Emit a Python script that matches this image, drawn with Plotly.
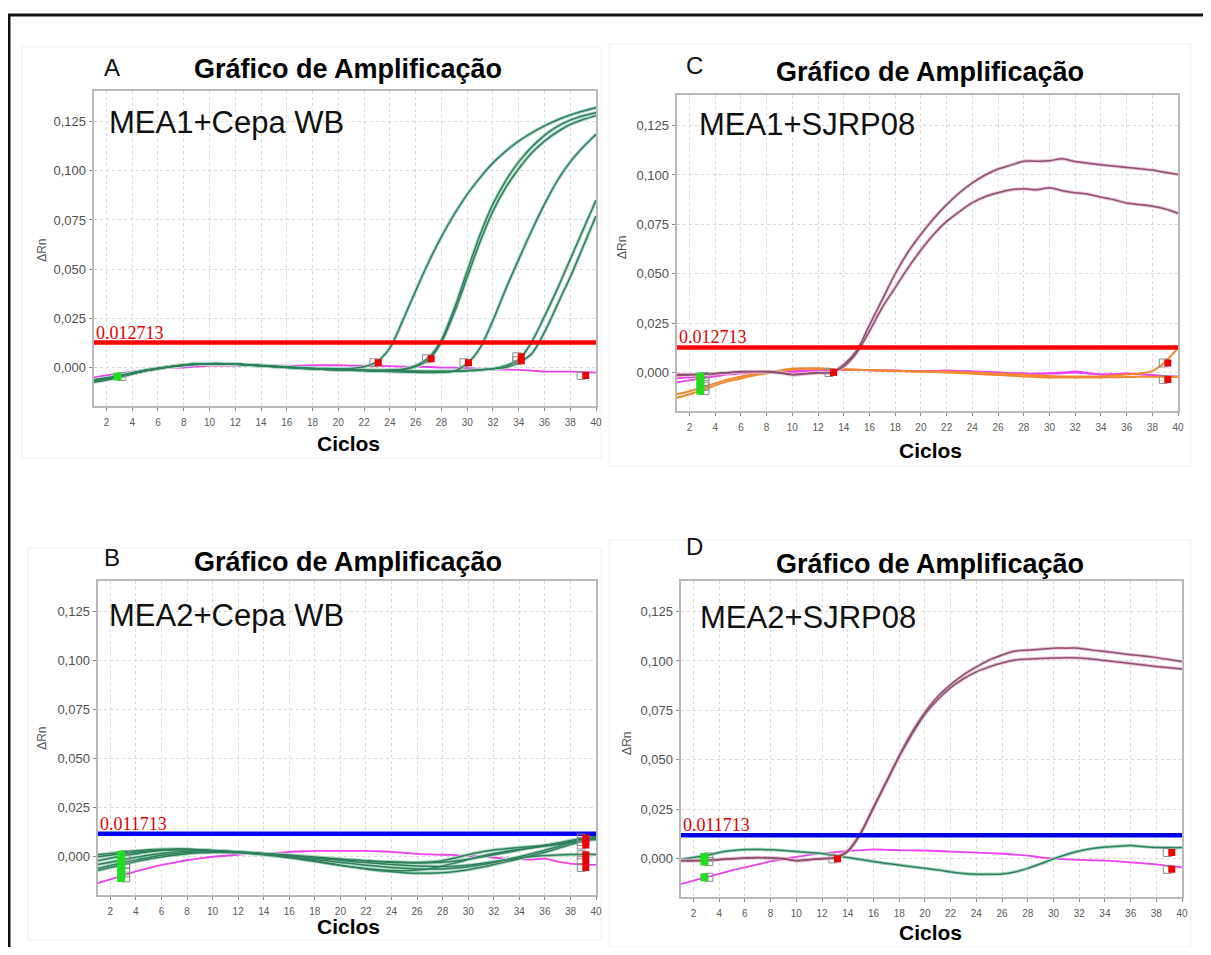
import plotly.graph_objects as go

# The page body keeps the browser's default 8px margin, so the figure is
# drawn 8px in from the top-left corner; all pixel positions below are given
# in the reference picture's coordinates and converted with OFF.
OFF = 8
W, H = 1211 - 2 * OFF, 955 - 2 * OFF

cycles = list(range(1, 41))
x_ticks = list(range(2, 41, 2))
y_ticks = [0.0, 0.025, 0.05, 0.075, 0.1, 0.125]
y_tick_text = ["0,000", "0,025", "0,050", "0,075", "0,100", "0,125"]

title_text = "Gráfico de Amplificação"
panel_letters = ["A", "C", "B", "D"]
panel_labels = ["MEA1+Cepa WB", "MEA1+SJRP08", "MEA2+Cepa WB", "MEA2+SJRP08"]
thresholds = [0.012713, 0.012713, 0.011713, 0.011713]
threshold_text = ["0.012713", "0.012713", "0.011713", "0.011713"]

# ---------------- Panel A : MEA1 + Cepa WB ----------------
A_green = [
    [-0.0070, -0.0060, -0.0045, -0.0030, -0.0015, -0.0005, 0.0005, 0.0012, 0.0018, 0.0020,
     0.0020, 0.0018, 0.0015, 0.0012, 0.0008, 0.0004, 0.0000, -0.0003, -0.0005, -0.0006,
     -0.0004, 0.0004, 0.0030, 0.0100, 0.0240, 0.0390, 0.0535, 0.0665, 0.0780, 0.0880,
     0.0965, 0.1040, 0.1100, 0.1150, 0.1192, 0.1228, 0.1258, 0.1283, 0.1303, 0.1320],
    [-0.0065, -0.0055, -0.0042, -0.0028, -0.0014, -0.0004, 0.0006, 0.0013, 0.0018, 0.0020,
     0.0019, 0.0017, 0.0014, 0.0010, 0.0006, 0.0002, -0.0002, -0.0005, -0.0008, -0.0010,
     -0.0012, -0.0013, -0.0013, -0.0012, -0.0008, 0.0010, 0.0050, 0.0140, 0.0300, 0.0490,
     0.0675, 0.0830, 0.0950, 0.1045, 0.1120, 0.1180, 0.1225, 0.1257, 0.1279, 0.1295],
    [-0.0075, -0.0063, -0.0048, -0.0032, -0.0017, -0.0006, 0.0004, 0.0011, 0.0016, 0.0019,
     0.0019, 0.0017, 0.0013, 0.0009, 0.0005, 0.0001, -0.0003, -0.0006, -0.0009, -0.0011,
     -0.0013, -0.0014, -0.0015, -0.0014, -0.0011, 0.0005, 0.0040, 0.0130, 0.0280, 0.0460,
     0.0640, 0.0795, 0.0915, 0.1010, 0.1090, 0.1150, 0.1198, 0.1235, 0.1260, 0.1280],
    [-0.0068, -0.0058, -0.0044, -0.0030, -0.0016, -0.0005, 0.0005, 0.0012, 0.0017, 0.0020,
     0.0020, 0.0018, 0.0014, 0.0010, 0.0006, 0.0002, -0.0002, -0.0006, -0.0009, -0.0012,
     -0.0014, -0.0016, -0.0018, -0.0020, -0.0022, -0.0024, -0.0025, -0.0024, -0.0018, 0.0020,
     0.0100, 0.0240, 0.0400, 0.0550, 0.0695, 0.0830, 0.0950, 0.1045, 0.1120, 0.1185],
    [-0.0062, -0.0052, -0.0040, -0.0026, -0.0013, -0.0003, 0.0006, 0.0013, 0.0018, 0.0020,
     0.0020, 0.0017, 0.0013, 0.0009, 0.0005, 0.0001, -0.0003, -0.0006, -0.0009, -0.0011,
     -0.0013, -0.0015, -0.0016, -0.0017, -0.0018, -0.0019, -0.0020, -0.0020, -0.0019, -0.0016,
     -0.0012, -0.0006, 0.0010, 0.0040, 0.0130, 0.0260, 0.0400, 0.0550, 0.0700, 0.0850],
    [-0.0072, -0.0061, -0.0046, -0.0031, -0.0016, -0.0005, 0.0005, 0.0012, 0.0017, 0.0019,
     0.0019, 0.0017, 0.0014, 0.0010, 0.0006, 0.0002, -0.0002, -0.0005, -0.0008, -0.0010,
     -0.0012, -0.0014, -0.0015, -0.0016, -0.0017, -0.0018, -0.0019, -0.0019, -0.0018, -0.0015,
     -0.0011, -0.0006, 0.0002, 0.0025, 0.0070, 0.0180, 0.0320, 0.0460, 0.0615, 0.0770],
]
A_magenta = [
    [-0.0050, -0.0040, -0.0030, -0.0020, -0.0010, -0.0005, 0.0000, 0.0000, 0.0005, 0.0010,
     0.0010, 0.0010, 0.0010, 0.0010, 0.0010, 0.0010, 0.0010, 0.0012, 0.0012, 0.0012,
     0.0010, 0.0010, 0.0010, 0.0008, 0.0005, 0.0005, 0.0003, 0.0000, 0.0000, -0.0003,
     -0.0005, -0.0010, -0.0010, -0.0012, -0.0015, -0.0020, -0.0020, -0.0020, -0.0022, -0.0025],
]
A_green_mk_x = [2.85]
A_green_mk_y = [-0.0045]
A_red_mk_x = [23.1, 27.2, 30.1, 34.2, 34.2, 39.2]
A_red_mk_y = [0.0025, 0.0045, 0.0025, 0.0035, 0.0055, -0.0040]

# ---------------- Panel C : MEA1 + SJRP08 ----------------
C_purple = [
    [-0.0010, -0.0010, -0.0008, -0.0005, 0.0000, 0.0005, 0.0005, 0.0005, 0.0000, -0.0010,
     -0.0005, 0.0000, 0.0000, 0.0040, 0.0110, 0.0240, 0.0370, 0.0500, 0.0610, 0.0700,
     0.0780, 0.0850, 0.0910, 0.0960, 0.1000, 0.1030, 0.1050, 0.1070, 0.1070, 0.1072,
     0.1082, 0.1068, 0.1060, 0.1052, 0.1045, 0.1038, 0.1032, 0.1025, 0.1013, 0.1003],
    [-0.0015, -0.0013, -0.0010, -0.0006, -0.0002, 0.0003, 0.0004, 0.0003, -0.0002, -0.0012,
     -0.0007, -0.0002, 0.0000, 0.0030, 0.0100, 0.0210, 0.0330, 0.0430, 0.0530, 0.0620,
     0.0700, 0.0765, 0.0815, 0.0860, 0.0890, 0.0910, 0.0925, 0.0930, 0.0925, 0.0935,
     0.0920, 0.0910, 0.0903, 0.0888, 0.0875, 0.0858, 0.0850, 0.0842, 0.0828, 0.0806],
]
C_orange = [
    [-0.0110, -0.0095, -0.0075, -0.0055, -0.0035, -0.0020, -0.0010, 0.0000, 0.0010, 0.0020,
     0.0020, 0.0020, 0.0018, 0.0016, 0.0014, 0.0012, 0.0010, 0.0008, 0.0006, 0.0005,
     0.0005, 0.0005, 0.0003, 0.0000, -0.0003, -0.0006, -0.0009, -0.0012, -0.0015, -0.0018,
     -0.0020, -0.0020, -0.0020, -0.0020, -0.0015, -0.0010, -0.0005, 0.0008, 0.0055, 0.0125],
    [-0.0128, -0.0110, -0.0090, -0.0065, -0.0045, -0.0030, -0.0015, -0.0005, 0.0005, 0.0015,
     0.0020, 0.0020, 0.0018, 0.0016, 0.0014, 0.0012, 0.0010, 0.0008, 0.0006, 0.0004,
     0.0002, 0.0000, -0.0003, -0.0006, -0.0010, -0.0013, -0.0016, -0.0020, -0.0023, -0.0025,
     -0.0025, -0.0025, -0.0025, -0.0025, -0.0024, -0.0023, -0.0022, -0.0022, -0.0022, -0.0023],
]
C_magenta = [
    [-0.0050, -0.0040, -0.0030, -0.0020, -0.0010, -0.0005, 0.0000, 0.0003, 0.0005, 0.0005,
     0.0010, 0.0012, 0.0012, 0.0012, 0.0012, 0.0011, 0.0010, 0.0010, 0.0008, 0.0008,
     0.0008, 0.0010, 0.0008, 0.0005, 0.0003, 0.0000, -0.0003, -0.0005, -0.0005, -0.0003,
     0.0000, 0.0005, -0.0003, -0.0010, -0.0008, -0.0005, -0.0008, -0.0012, -0.0018, -0.0020],
    [-0.0030, -0.0025, -0.0020, -0.0012, -0.0005, 0.0000, 0.0003, 0.0004, 0.0003, 0.0002,
     0.0006, 0.0010, 0.0011, 0.0012, 0.0012, 0.0011, 0.0010, 0.0009, 0.0008, 0.0007,
     0.0007, 0.0008, 0.0006, 0.0004, 0.0002, -0.0001, -0.0004, -0.0006, -0.0007, -0.0006,
     -0.0004, 0.0000, -0.0005, -0.0011, -0.0010, -0.0008, -0.0010, -0.0014, -0.0019, -0.0022],
]
C_green_mk_x = [2.85, 2.85, 2.85, 2.85]
C_green_mk_y = [-0.0020, -0.0045, -0.0070, -0.0092]
C_red_mk_x = [13.2, 39.2, 39.2]
C_red_mk_y = [0.0000, 0.0048, -0.0035]

# ---------------- Panel B : MEA2 + Cepa WB ----------------
B_green = [
    [-0.0020, -0.0008, 0.0005, 0.0015, 0.0025, 0.0032, 0.0036, 0.0037, 0.0035, 0.0032,
     0.0028, 0.0024, 0.0020, 0.0015, 0.0010, 0.0005, 0.0000, -0.0005, -0.0010, -0.0014,
     -0.0018, -0.0021, -0.0024, -0.0026, -0.0028, -0.0029, -0.0027, -0.0020, -0.0006, 0.0010,
     0.0024, 0.0034, 0.0041, 0.0047, 0.0052, 0.0058, 0.0067, 0.0078, 0.0088, 0.0092],
    [-0.0040, -0.0028, -0.0015, -0.0003, 0.0008, 0.0017, 0.0024, 0.0028, 0.0030, 0.0030,
     0.0028, 0.0024, 0.0019, 0.0013, 0.0006, -0.0002, -0.0011, -0.0021, -0.0032, -0.0043,
     -0.0053, -0.0062, -0.0070, -0.0076, -0.0081, -0.0084, -0.0084, -0.0081, -0.0075, -0.0066,
     -0.0054, -0.0040, -0.0025, -0.0010, 0.0006, 0.0023, 0.0042, 0.0062, 0.0080, 0.0095],
    [-0.0060, -0.0045, -0.0030, -0.0016, -0.0004, 0.0007, 0.0015, 0.0021, 0.0024, 0.0025,
     0.0024, 0.0021, 0.0017, 0.0012, 0.0006, 0.0000, -0.0007, -0.0014, -0.0021, -0.0029,
     -0.0036, -0.0043, -0.0049, -0.0055, -0.0059, -0.0062, -0.0063, -0.0062, -0.0058, -0.0051,
     -0.0041, -0.0029, -0.0015, 0.0000, 0.0016, 0.0033, 0.0052, 0.0072, 0.0092, 0.0105],
    [0.0000, 0.0008, 0.0016, 0.0023, 0.0029, 0.0033, 0.0035, 0.0035, 0.0033, 0.0030,
     0.0027, 0.0024, 0.0020, 0.0015, 0.0010, 0.0005, -0.0001, -0.0007, -0.0013, -0.0019,
     -0.0025, -0.0030, -0.0035, -0.0040, -0.0044, -0.0047, -0.0049, -0.0050, -0.0048, -0.0043,
     -0.0035, -0.0025, -0.0015, -0.0006, 0.0001, 0.0006, 0.0009, 0.0011, 0.0012, 0.0012],
    [-0.0070, -0.0055, -0.0040, -0.0025, -0.0012, -0.0001, 0.0008, 0.0015, 0.0020, 0.0022,
     0.0022, 0.0020, 0.0016, 0.0010, 0.0003, -0.0005, -0.0014, -0.0024, -0.0034, -0.0044,
     -0.0053, -0.0060, -0.0066, -0.0070, -0.0071, -0.0068, -0.0060, -0.0047, -0.0031, -0.0014,
     0.0002, 0.0016, 0.0028, 0.0038, 0.0046, 0.0054, 0.0062, 0.0072, 0.0082, 0.0088],
    [0.0010, 0.0017, 0.0024, 0.0030, 0.0035, 0.0038, 0.0040, 0.0039, 0.0036, 0.0032,
     0.0028, 0.0025, 0.0021, 0.0017, 0.0013, 0.0009, 0.0004, -0.0001, -0.0006, -0.0011,
     -0.0016, -0.0021, -0.0025, -0.0029, -0.0031, -0.0032, -0.0031, -0.0028, -0.0022, -0.0013,
     -0.0002, 0.0010, 0.0022, 0.0034, 0.0046, 0.0058, 0.0070, 0.0083, 0.0094, 0.0100],
]
B_magenta = [
    [-0.0135, -0.0115, -0.0095, -0.0075, -0.0058, -0.0042, -0.0030, -0.0018, -0.0008, 0.0000,
     0.0005, 0.0010, 0.0015, 0.0018, 0.0020, 0.0025, 0.0028, 0.0030, 0.0030, 0.0030,
     0.0030, 0.0030, 0.0028, 0.0025, 0.0020, 0.0015, 0.0012, 0.0010, 0.0008, 0.0005,
     0.0000, -0.0005, -0.0010, -0.0012, -0.0015, -0.0010, -0.0025, -0.0035, -0.0040, -0.0042],
]
B_green_mk_x = [2.85, 2.85, 2.85, 2.85, 2.85, 2.85]
B_green_mk_y = [0.0010, -0.0012, -0.0035, -0.0058, -0.0082, -0.0108]
B_red_mk_x = [39.2, 39.2, 39.2, 39.2, 39.2, 39.2]
B_red_mk_y = [0.0095, 0.0078, 0.0060, 0.0010, -0.0020, -0.0055]

# ---------------- Panel D : MEA2 + SJRP08 ----------------
D_purple = [
    [-0.0010, -0.0010, -0.0008, -0.0005, 0.0000, 0.0003, 0.0005, 0.0003, 0.0000, -0.0010,
     -0.0005, 0.0000, 0.0005, 0.0040, 0.0130, 0.0260, 0.0390, 0.0520, 0.0640, 0.0740,
     0.0820, 0.0880, 0.0930, 0.0970, 0.1005, 0.1030, 0.1050, 0.1055, 0.1060, 0.1065,
     0.1065, 0.1065, 0.1055, 0.1048, 0.1040, 0.1032, 0.1025, 0.1017, 0.1007, 0.0997],
    [-0.0012, -0.0012, -0.0010, -0.0006, -0.0002, 0.0002, 0.0004, 0.0002, -0.0002, -0.0012,
     -0.0007, -0.0002, 0.0003, 0.0035, 0.0125, 0.0255, 0.0385, 0.0515, 0.0630, 0.0730,
     0.0805, 0.0865, 0.0910, 0.0945, 0.0970, 0.0990, 0.1005, 0.1010, 0.1013, 0.1015,
     0.1017, 0.1015, 0.1010, 0.1002, 0.0995, 0.0987, 0.0980, 0.0972, 0.0966, 0.0960],
]
D_green = [
    [-0.0005, 0.0005, 0.0015, 0.0030, 0.0040, 0.0045, 0.0046, 0.0044, 0.0040, 0.0035,
     0.0030, 0.0025, 0.0015, 0.0005, -0.0005, -0.0015, -0.0025, -0.0033, -0.0042, -0.0050,
     -0.0058, -0.0068, -0.0076, -0.0080, -0.0080, -0.0078, -0.0068, -0.0050, -0.0027, -0.0002,
     0.0020, 0.0038, 0.0050, 0.0058, 0.0062, 0.0066, 0.0060, 0.0056, 0.0055, 0.0055],
]
D_magenta = [
    [-0.0130, -0.0112, -0.0095, -0.0078, -0.0060, -0.0045, -0.0030, -0.0015, -0.0003, 0.0008,
     0.0018, 0.0025, 0.0032, 0.0038, 0.0042, 0.0046, 0.0044, 0.0042, 0.0041, 0.0040,
     0.0038, 0.0035, 0.0032, 0.0030, 0.0027, 0.0024, 0.0020, 0.0014, 0.0006, 0.0000,
     -0.0004, -0.0007, -0.0009, -0.0011, -0.0015, -0.0020, -0.0025, -0.0030, -0.0038, -0.0045],
]
D_green_mk_x = [2.85, 2.85, 2.85]
D_green_mk_y = [0.0008, -0.0015, -0.0095]
D_red_mk_x = [13.2, 39.2, 39.2]
D_red_mk_y = [-0.0002, 0.0030, -0.0055]

# ---------------- styling / layout ----------------
GREEN_CORE, GREEN_HALO = "#2f7f5c", "#acd8c3"
PURPLE_CORE, PURPLE_HALO = "#8c5070", "#e8c0d4"
MAGENTA = "#ee40ee"
ORANGE = "#f2892f"
THR_COLORS = ["#ff0000", "#ff0000", "#0000ee", "#0000ee"]

# plot-area pixel boxes (left, top, right, bottom) in reference pixels
boxes = [(94, 91, 599, 406), (680, 95, 1184, 411), (98, 581, 599, 895), (684, 581, 1188, 897)]
letter_pos = [(113, 68), (698, 66), (113, 557), (698, 546)]
title_pos = [(350, 69), (935, 72), (350, 562), (935, 564)]
label_pos = [(108, 123), (700, 125), (108, 615), (701, 617)]
drn_pos = [(42, 250), (625, 247), (42, 738), (630, 743)]
ciclos_pos = [(350, 444), (935, 450), (350, 926), (935, 932)]

def px(x):
    return (x - OFF) / W

def py(y):
    return 1 - (y - OFF) / H

panels = [
    dict(green=A_green, purple=[], orange=[], magenta=A_magenta,
         gmx=A_green_mk_x, gmy=A_green_mk_y, rmx=A_red_mk_x, rmy=A_red_mk_y),
    dict(green=[], purple=C_purple, orange=C_orange, magenta=C_magenta,
         gmx=C_green_mk_x, gmy=C_green_mk_y, rmx=C_red_mk_x, rmy=C_red_mk_y),
    dict(green=B_green, purple=[], orange=[], magenta=B_magenta,
         gmx=B_green_mk_x, gmy=B_green_mk_y, rmx=B_red_mk_x, rmy=B_red_mk_y),
    dict(green=D_green, purple=D_purple, orange=[], magenta=D_magenta,
         gmx=D_green_mk_x, gmy=D_green_mk_y, rmx=D_red_mk_x, rmy=D_red_mk_y),
]

fig = go.Figure()
layout = dict(
    width=W, height=H, margin=dict(l=0, r=0, t=0, b=0),
    paper_bgcolor="white", plot_bgcolor="white", showlegend=False,
    font=dict(family="Liberation Sans, Arial, sans-serif"),
)
annotations = []
shapes = []

for i, p in enumerate(panels):
    n = "" if i == 0 else str(i + 1)
    xa, ya = "x" + n, "y" + n
    l, t, r, b = boxes[i]
    common = dict(showline=True, linecolor="#b8b8b8", linewidth=2, mirror=True,
                  showgrid=True, gridcolor="#d9d9d9", griddash="dot", gridwidth=1,
                  zeroline=False, ticks="outside", ticklen=3, tickcolor="#8a8a8a",
                  tickwidth=1, fixedrange=True)
    layout["xaxis" + n] = dict(domain=[px(l), px(r)], anchor=ya, range=[1, 40],
                               tickvals=x_ticks, ticktext=[str(v) for v in x_ticks],
                               tickfont=dict(size=10, color="#5a5a5a"),
                               ticklabelstandoff=3, **common)
    layout["yaxis" + n] = dict(domain=[py(b), py(t)], anchor=xa, range=[-0.0195, 0.1405],
                               tickvals=y_ticks, ticktext=y_tick_text,
                               tickfont=dict(size=13, color="#505050"), **common)

    def add_line(ys, color, width):
        fig.add_trace(go.Scatter(x=cycles, y=ys, mode="lines", xaxis=xa, yaxis=ya,
                                 line=dict(color=color, width=width, shape="spline",
                                           smoothing=0.8),
                                 hoverinfo="skip"))

    for ys in p["magenta"]:
        add_line(ys, MAGENTA, 1.8)
    for ys in p["orange"]:
        add_line(ys, ORANGE, 2.0)
    for ys in p["green"]:
        add_line(ys, GREEN_HALO, 3.4)
    for ys in p["green"]:
        add_line(ys, GREEN_CORE, 1.5)
    for ys in p["purple"]:
        add_line(ys, PURPLE_HALO, 3.4)
    for ys in p["purple"]:
        add_line(ys, PURPLE_CORE, 1.5)

    # threshold line
    fig.add_trace(go.Scatter(x=[1, 40], y=[thresholds[i]] * 2, mode="lines",
                             xaxis=xa, yaxis=ya, hoverinfo="skip",
                             line=dict(color=THR_COLORS[i], width=4.5)))

    # baseline-start (green) markers with hollow companion
    fig.add_trace(go.Scatter(x=[v + 0.35 for v in p["gmx"]], y=p["gmy"], mode="markers",
                             xaxis=xa, yaxis=ya, hoverinfo="skip",
                             marker=dict(symbol="square-open", size=8, color="#8c8c8c",
                                         line=dict(width=1))))
    fig.add_trace(go.Scatter(x=p["gmx"], y=p["gmy"], mode="markers", xaxis=xa, yaxis=ya,
                             hoverinfo="skip",
                             marker=dict(symbol="square", size=8, color="#22dd22",
                                         line=dict(width=0))))
    # baseline-end (red) markers with hollow companion
    fig.add_trace(go.Scatter(x=[v - 0.35 for v in p["rmx"]], y=p["rmy"], mode="markers",
                             xaxis=xa, yaxis=ya, hoverinfo="skip",
                             marker=dict(symbol="square-open", size=8, color="#8c8c8c",
                                         line=dict(width=1))))
    fig.add_trace(go.Scatter(x=p["rmx"], y=p["rmy"], mode="markers", xaxis=xa, yaxis=ya,
                             hoverinfo="skip",
                             marker=dict(symbol="square", size=7, color="#ee0000",
                                         line=dict(width=0))))

    # threshold value text
    annotations.append(dict(x=1, y=thresholds[i], xref=xa, yref=ya, xanchor="left",
                            yanchor="bottom", yshift=-2, showarrow=False,
                            text=threshold_text[i],
                            font=dict(family="Liberation Serif, Times New Roman, serif",
                                      size=18, color="#e00000")))
    # panel letter
    lx, ly = letter_pos[i]
    annotations.append(dict(x=px(lx), y=py(ly), xref="paper", yref="paper",
                            xanchor="center", yanchor="middle", showarrow=False,
                            text=panel_letters[i], font=dict(size=24, color="#111111")))
    # title
    tx, ty = title_pos[i]
    annotations.append(dict(x=px(tx), y=py(ty), xref="paper", yref="paper",
                            xanchor="center", yanchor="middle", showarrow=False,
                            text="<b>" + title_text + "</b>",
                            font=dict(size=27, color="#000000")))
    # inner label
    ix, iy = label_pos[i]
    annotations.append(dict(x=px(ix), y=py(iy), xref="paper", yref="paper",
                            xanchor="left", yanchor="middle", showarrow=False,
                            text=panel_labels[i], font=dict(size=31, color="#111111")))
    # y-axis title
    dx, dy = drn_pos[i]
    annotations.append(dict(x=px(dx), y=py(dy), xref="paper", yref="paper",
                            xanchor="center", yanchor="middle", showarrow=False,
                            text="ΔRn", textangle=-90,
                            font=dict(size=12, color="#555555")))
    # x-axis title
    cx, cy = ciclos_pos[i]
    annotations.append(dict(x=px(cx), y=py(cy), xref="paper", yref="paper",
                            xanchor="center", yanchor="middle", showarrow=False,
                            text="<b>Ciclos</b>", font=dict(size=21, color="#000000")))

# faint panel frames
for (x0, y0, x1, y1) in [(22, 47, 604, 458), (612, 44, 1197, 466),
                         (28, 548, 604, 940), (612, 540, 1197, 947)]:
    shapes.append(dict(type="rect", xref="paper", yref="paper", layer="below",
                       x0=px(x0), x1=px(x1), y0=py(y1), y1=py(y0),
                       line=dict(color="#efefef", width=1)))

# outer black border (right and bottom edges fall outside the picture)
shapes.append(dict(type="rect", xref="paper", yref="paper", layer="above",
                   x0=px(9), x1=1.05, y0=-0.05, y1=py(15),
                   line=dict(color="#111111", width=3)))

layout["annotations"] = annotations
layout["shapes"] = shapes
fig.update_layout(**layout)
fig.write_html("out.html")
